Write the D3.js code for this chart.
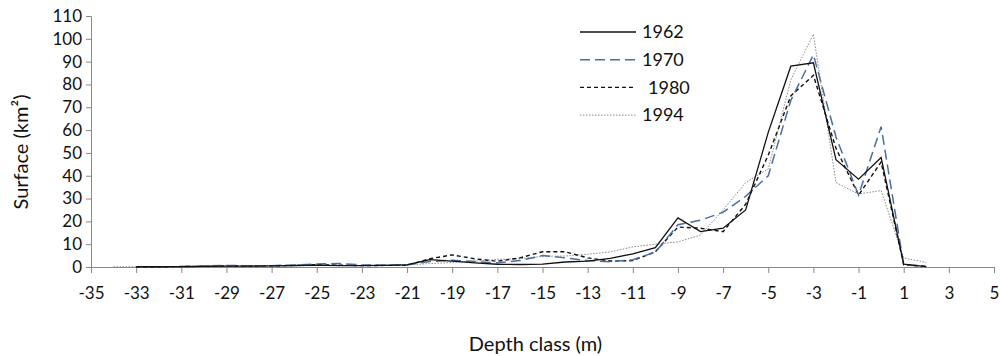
<!DOCTYPE html>
<html>
<head>
<meta charset="utf-8">
<script src="https://cdn.jsdelivr.net/npm/d3@7"></script>
<style>
  body { margin: 0; background: #fff; }
  svg { display: block; font-family: Lato, "Open Sans", sans-serif; }
  .axis path, .axis line { stroke: #888; stroke-width: 1; }
  .axis text { fill: #111; font-size: 17px; font-family: Lato, sans-serif; }
</style>
</head>
<body>
<script>
// depth classes (m)
var depths = [-34, -33, -32, -31, -30, -29, -28, -27, -26, -25, -24, -23, -22, -21, -20, -19, -18, -17, -16, -15, -14, -13, -12, -11, -10, -9, -8, -7, -6, -5, -4, -3, -2, -1, 0, 1, 2];

// surface per year (km2), null = no data
var s1962 = [null, 0.1, 0.1, 0.2, 0.3, 0.4, 0.4, 0.5, 0.6, 0.8, 0.6, 0.6, 0.7, 0.9, 3.2, 2.6, 1.8, 1.2, 1.1, 1.3, 2.2, 2.6, 3.8, 5.8, 8.5, 21.5, 15.5, 17, 25, 59, 88, 89.5, 47, 38.5, 48, 1.2, 0.2];
var s1970 = [null, null, null, 0.2, 0.4, 0.7, 0.5, 0.6, 0.9, 1.3, 1.5, 0.9, 0.8, 1.0, 2.4, 3.0, 2.4, 1.8, 2.8, 5.0, 4.0, 2.8, 2.3, 3.2, 6.5, 18.5, 20.5, 24, 31, 40, 73, 93, 57, 31.5, 61.5, 1.0, 0.2];
var s1980 = [null, 0.1, 0.1, 0.2, 0.3, 0.5, 0.4, 0.5, 0.7, 1.0, 0.8, 0.6, 0.7, 0.8, 3.6, 5.3, 3.6, 2.5, 4.0, 6.7, 6.7, 4.0, 2.6, 2.8, 6.7, 17.5, 17, 15.5, 27.5, 49, 75, 84, 52, 31.5, 46, 1.0, 0.3];
var s1994 = [0.1, 0.1, 0.1, 0.2, 0.3, 0.3, 0.4, 0.4, 0.5, 0.6, 0.6, 0.7, 0.8, 0.9, 1.5, 2.0, 2.6, 3.3, 3.6, 4.7, 4.8, 5.6, 6.6, 8.8, 10, 11, 14, 25, 37, 43, 82, 102, 37, 32, 33.5, 4.0, 2.0];

var years = ["1962", "1970", "1980", "1994"];
var xTicks = d3.range(-35, 6, 2);
var yTicks = d3.range(0, 111, 10);

var width = 1000, height = 356;
var margin = {top: 16, right: 6, bottom: 89, left: 91};

var svg = d3.select("body").append("svg")
    .attr("width", width)
    .attr("height", height);

var x = d3.scaleLinear()
    .domain([-35, 5])
    .range([margin.left, width - margin.right]);
var y = d3.scaleLinear()
    .domain([0, 110])
    .range([height - margin.bottom, margin.top]);

// axes
var yaxis = d3.axisLeft(y).tickValues(yTicks).tickSizeOuter(0).tickSize(5).tickPadding(4);
var xaxis = d3.axisBottom(x).tickValues(xTicks).tickSizeOuter(0).tickSize(6).tickPadding(14)
    .tickFormat(function(d) { return d < 0 ? "-" + Math.abs(d) : d; });

svg.append("g").attr("class", "axis")
    .attr("transform", "translate(" + margin.left + ",0)")
    .call(yaxis);
svg.append("g").attr("class", "axis")
    .attr("transform", "translate(0," + y(0) + ")")
    .call(xaxis);

// series
var series = [
  {name: "1962", values: s1962, color: "#111", dash: null, width: 1.3},
  {name: "1970", values: s1970, color: "#4a6f9e", dash: "10,5", width: 1.5},
  {name: "1980", values: s1980, color: "#111", dash: "4,3", width: 1.4},
  {name: "1994", values: s1994, color: "#888", dash: "1.5,1.5", width: 1}
];

var line = d3.line()
    .defined(function(d) { return d != null; })
    .x(function(d, i) { return x(depths[i]); })
    .y(function(d) { return y(d); });

svg.append("g").selectAll("path")
    .data(series.slice().reverse())
  .enter().append("path")
    .attr("fill", "none")
    .attr("stroke", function(d) { return d.color; })
    .attr("stroke-width", function(d) { return d.width; })
    .attr("stroke-dasharray", function(d) { return d.dash; })
    .attr("stroke-linejoin", "miter")
    .attr("d", function(d) { return line(d.values); });

// legend
var legend = svg.append("g").selectAll("g")
    .data(series)
  .enter().append("g")
    .attr("transform", function(d, i) { return "translate(580," + (32 + i * 27.7) + ")"; });
legend.append("line")
    .attr("x1", 0).attr("x2", 56)
    .attr("stroke", function(d) { return d.color; })
    .attr("stroke-width", function(d) { return d.width; })
    .attr("stroke-dasharray", function(d) { return d.dash; });
legend.append("text")
    .attr("x", function(d) { return d.name == "1980" ? 68 : 62; })
    .attr("dy", "0.35em")
    .style("font-size", "18px")
    .style("fill", "#111")
    .text(function(d) { return d.name; });

// axis titles
svg.append("text")
    .attr("x", (margin.left + width - margin.right) / 2 - 7)
    .attr("y", 351)
    .attr("text-anchor", "middle")
    .style("font-size", "20px")
    .style("fill", "#111")
    .text("Depth class (m)");

svg.append("text")
    .attr("transform", "translate(28," + 152 + ") rotate(-90)")
    .attr("text-anchor", "middle")
    .style("font-size", "20px")
    .style("fill", "#111")
    .text("Surface (km²)");
</script>
</body>
</html>
